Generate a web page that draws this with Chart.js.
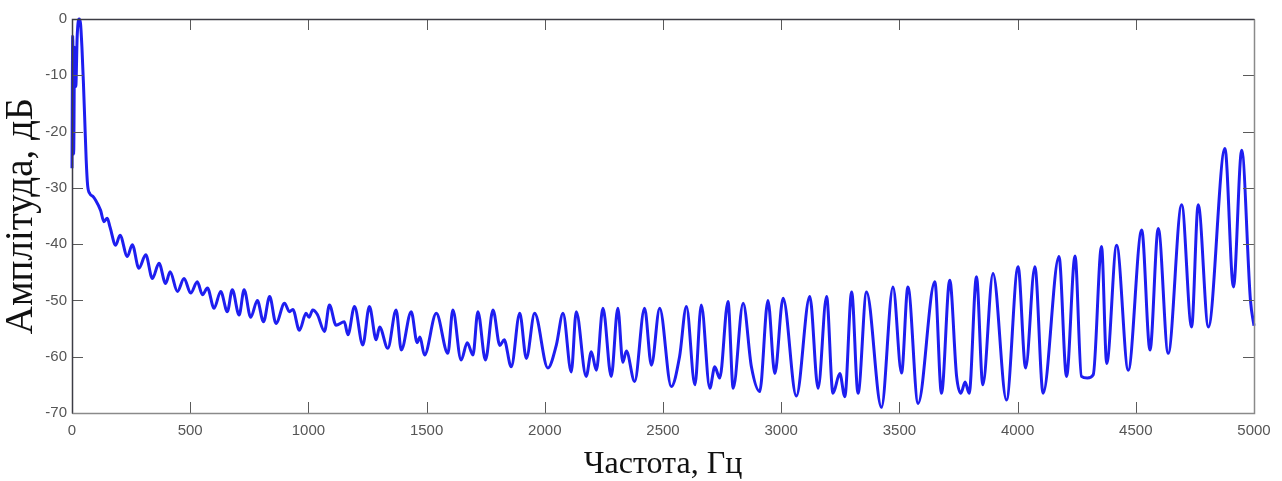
<!DOCTYPE html>
<html>
<head>
<meta charset="utf-8">
<script src="https://cdn.jsdelivr.net/npm/chart.js@4.4.1/dist/chart.umd.min.js"></script>
<style>
html,body{margin:0;padding:0;background:#ffffff;}
#wrap{width:1282px;height:481px;position:relative;}
</style>
</head>
<body>
<div id="wrap"><canvas id="c" width="1282" height="481"></canvas></div>
<script>
// ---- data ----
const freqHz = [0,3,7,11,16,22,30,36,42,48,54,60,66,75,88,100,121,135,149,161,185,203,234,255,283,312,340,368,396,415,446,474,502,530,552,573,601,629,657,678,707,728,756,784,810,836,863,899,920,934,962,990,1003,1018,1038,1068,1089,1117,1152,1167,1195,1230,1258,1287,1301,1336,1371,1393,1435,1460,1472,1491,1541,1590,1611,1646,1672,1696,1717,1749,1781,1810,1828,1858,1894,1922,1957,2013,2049,2077,2112,2133,2175,2197,2218,2246,2281,2309,2330,2345,2380,2422,2451,2486,2535,2570,2599,2635,2662,2698,2719,2740,2775,2797,2839,2874,2909,2944,2973,3008,3064,3121,3156,3192,3219,3248,3269,3298,3325,3361,3424,3473,3509,3536,3579,3650,3678,3713,3742,3760,3778,3795,3826,3853,3896,3953,4002,4034,4073,4108,4175,4207,4243,4270,4295,4320,4355,4377,4419,4468,4525,4560,4595,4637,4694,4736,4764,4807,4877,4913,4948,4985,5000];
const amplitudeDb = [-26.5,-3,-24,-5,-12,-3,0,-0.8,-5,-11,-18,-25,-29.5,-31,-31.5,-32.2,-34,-36,-35.4,-37,-40.2,-38.4,-42.2,-40.1,-44.3,-41.9,-46.1,-43.4,-47,-44.9,-48.4,-46.1,-48.7,-46.7,-49,-47.8,-51.4,-48.4,-52,-48.1,-52.6,-48.1,-53,-50,-53.8,-49.3,-54.1,-50.5,-52,-51.6,-55.3,-52.3,-53,-51.7,-52.5,-55.5,-50.8,-54.4,-53.8,-56.1,-51.1,-57.9,-51.1,-57,-54.7,-58.5,-51.7,-58.8,-52,-57.5,-56.5,-59.7,-52.3,-59.4,-51.7,-60.6,-57.5,-59.7,-52,-60.6,-51.7,-58,-57,-61.8,-52.3,-60.3,-52.3,-62,-57.9,-52.3,-62.7,-52,-63.5,-59.1,-62.4,-51.4,-63.5,-51.4,-61,-59,-64.4,-51.4,-61.5,-51.4,-65.3,-60,-51.1,-65,-50.8,-65.6,-61.8,-63.8,-50.2,-65.6,-50.5,-61.8,-66.2,-50,-63,-49.6,-67,-49.3,-65.6,-49.3,-66.5,-63,-67.1,-48.5,-66.5,-48.5,-69,-47.6,-62.9,-47.6,-68.3,-46.7,-66.5,-46.4,-63.5,-66.5,-64.5,-66.5,-45.8,-65,-45.2,-67.7,-44,-62,-44,-66.5,-42.2,-63.5,-42.1,-63.5,-63.8,-63.2,-40.4,-61.2,-40.2,-62.4,-37.5,-58.8,-37.2,-59.4,-33,-54.7,-33,-54.7,-23,-47.6,-23.3,-50,-54.5];
const xTicks = [0,500,1000,1500,2000,2500,3000,3500,4000,4500,5000];
const yTicks = [0,-10,-20,-30,-40,-50,-60,-70];
const xTitle = 'Частота, Гц';
const yTitle = 'Амплітуда, дБ';

const points = freqHz.map((f, i) => ({x: f, y: amplitudeDb[i]}));

const framePlugin = {
  id: 'frameTicks',
  afterDatasetsDraw(chart) {
    const {ctx, chartArea: a, scales: {x, y}} = chart;
    const L = 11;
    ctx.save();
    ctx.lineWidth = 1;
    ctx.strokeStyle = '#5a5a5a';
    ctx.beginPath();
    xTicks.forEach(v => {
      const px = Math.round(x.getPixelForValue(v)) + 0.5;
      ctx.moveTo(px, a.bottom); ctx.lineTo(px, a.bottom - L);
      ctx.moveTo(px, a.top); ctx.lineTo(px, a.top + L);
    });
    yTicks.forEach(v => {
      const py = Math.round(y.getPixelForValue(v)) + 0.5;
      ctx.moveTo(a.left, py); ctx.lineTo(a.left + L, py);
      ctx.moveTo(a.right, py); ctx.lineTo(a.right - L, py);
    });
    ctx.stroke();
    const l = Math.round(a.left) + 0.5, r = Math.round(a.right) + 0.5,
          t = Math.round(a.top) + 0.5, b = Math.round(a.bottom) + 0.5;
    ctx.lineWidth = 1.5;
    ctx.strokeStyle = '#3c3c44';
    ctx.beginPath();
    ctx.moveTo(l, b); ctx.lineTo(l, t); ctx.lineTo(r, t);
    ctx.stroke();
    ctx.strokeStyle = '#8a8a8a';
    ctx.beginPath();
    ctx.moveTo(r, t); ctx.lineTo(r, b); ctx.lineTo(l, b);
    ctx.stroke();
    ctx.restore();
  }
};

new Chart(document.getElementById('c'), {
  type: 'line',
  data: {
    datasets: [{
      data: points,
      borderColor: '#1e1ef0',
      borderWidth: 3,
      pointRadius: 0,
      fill: false,
      cubicInterpolationMode: 'monotone',
      clip: 2
    }]
  },
  options: {
    responsive: false,
    devicePixelRatio: 1,
    animation: false,
    parsing: false,
    layout: {padding: {left: 0, top: 19, right: 28, bottom: 0}},
    plugins: {legend: {display: false}, tooltip: {enabled: false}},
    scales: {
      x: {
        type: 'linear',
        min: 0, max: 5000,
        afterBuildTicks: s => { s.ticks = xTicks.map(v => ({value: v})); },
        afterFit: s => { s.height = 68; },
        grid: {display: false, drawTicks: false},
        border: {display: false},
        ticks: {padding: 9, color: '#555555', maxRotation: 0, autoSkip: false,
                callback: v => String(v),
                font: {family: 'Liberation Sans, Arial, sans-serif', size: 15}},
        title: {display: true, text: xTitle, color: '#111111',
                font: {family: 'Liberation Serif, Times New Roman, serif', size: 32, lineHeight: 1},
                padding: {top: 0, bottom: 0}}
      },
      y: {
        type: 'linear',
        min: -70, max: 0,
        afterBuildTicks: s => { s.ticks = yTicks.map(v => ({value: v})); },
        afterFit: s => { s.width = 72; },
        grid: {display: false, drawTicks: false},
        border: {display: false},
        ticks: {padding: 5, color: '#555555', autoSkip: false,
                callback: v => String(v),
                font: {family: 'Liberation Sans, Arial, sans-serif', size: 15}},
        title: {display: true, text: yTitle, color: '#111111',
                font: {family: 'Liberation Serif, Times New Roman, serif', size: 39, lineHeight: 1},
                padding: {top: 2, bottom: 0}}
      }
    }
  },
  plugins: [framePlugin]
});
</script>
</body>
</html>
